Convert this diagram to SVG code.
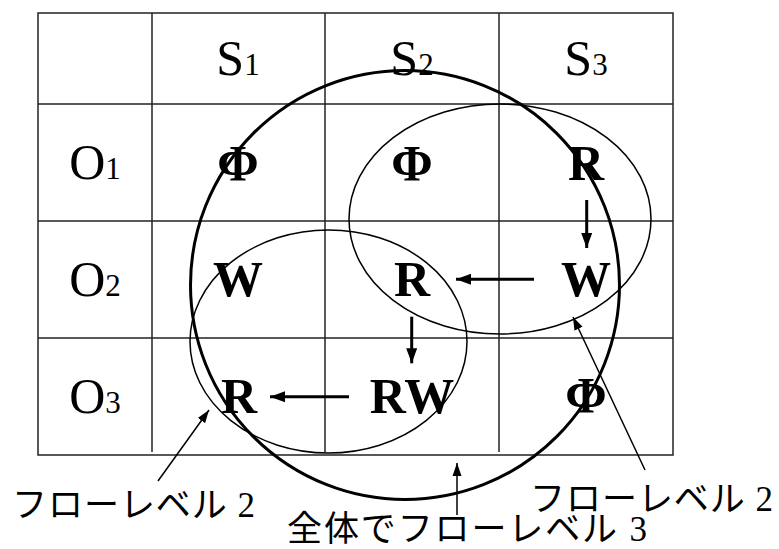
<svg xmlns="http://www.w3.org/2000/svg" width="779" height="549" viewBox="0 0 779 549">
<style>
.grid{stroke:#222;stroke-width:1.5;fill:none}
.big{stroke:#000;stroke-width:3;fill:none}
.ell{stroke:#000;stroke-width:1.5;fill:none}
.hd{font-family:"Liberation Serif","Times New Roman",serif;font-size:50px;fill:#000;text-anchor:middle}
.sub{font-size:31px}
.cell{font-family:"Liberation Serif","Times New Roman",serif;font-size:50px;font-weight:bold;fill:#000;text-anchor:middle}
.lbl{font-family:"Liberation Serif","Noto Sans CJK JP",serif;font-size:35px;fill:#000}
.flow{stroke:#000;stroke-width:3;fill:none}
.call{stroke:#000;stroke-width:1.5;fill:none}
</style>
<defs>
<marker id="ah" markerUnits="userSpaceOnUse" markerWidth="16" markerHeight="12" refX="15" refY="6" orient="auto">
<path d="M0,0.5 L15,6 L0,11.5 Z" fill="#000"/>
</marker>
<marker id="ahs" markerUnits="userSpaceOnUse" markerWidth="14" markerHeight="10" refX="13" refY="5" orient="auto">
<path d="M0,0.5 L13,5 L0,9.5 Z" fill="#000"/>
</marker>
</defs>
<rect width="779" height="549" fill="#fff"/>
<g id="table">
<rect class="grid" x="38" y="13" width="635" height="442"/>
<line class="grid" x1="152" y1="13" x2="152" y2="452"/>
<line class="grid" x1="325" y1="13" x2="325" y2="452"/>
<line class="grid" x1="499" y1="13" x2="499" y2="452"/>
<line class="grid" x1="38" y1="104" x2="673" y2="104"/>
<line class="grid" x1="38" y1="221" x2="673" y2="221"/>
<line class="grid" x1="38" y1="338" x2="673" y2="338"/>
</g>
<g id="headers">
<g id="h-s1"><text class="hd" x="238" y="75">S<tspan class="sub">1</tspan></text></g>
<g id="h-s2"><text class="hd" x="412" y="75">S<tspan class="sub">2</tspan></text></g>
<g id="h-s3"><text class="hd" x="586" y="75">S<tspan class="sub">3</tspan></text></g>
<g id="h-o1"><text class="hd" x="95" y="179">O<tspan class="sub">1</tspan></text></g>
<g id="h-o2"><text class="hd" x="95" y="296">O<tspan class="sub">2</tspan></text></g>
<g id="h-o3"><text class="hd" x="95" y="413">O<tspan class="sub">3</tspan></text></g>
</g>
<g id="cells">
<g id="c-o1-s1"><text class="cell" x="238" y="180">Φ</text></g>
<g id="c-o1-s2"><text class="cell" x="412" y="180">Φ</text></g>
<g id="c-o1-s3"><text class="cell" x="586" y="180">R</text></g>
<g id="c-o2-s1"><text class="cell" x="238" y="296">W</text></g>
<g id="c-o2-s2"><text class="cell" x="412" y="296">R</text></g>
<g id="c-o2-s3"><text class="cell" x="586" y="296">W</text></g>
<g id="c-o3-s1"><text class="cell" x="239" y="413">R</text></g>
<g id="c-o3-s2"><text class="cell" x="412" y="413">RW</text></g>
<g id="c-o3-s3"><text class="cell" x="586" y="412">Φ</text></g>
</g>
<g id="regions">
<ellipse id="level3" class="big" cx="405" cy="285" rx="214.5" ry="214.5"/>
<ellipse id="level2-upper" class="ell" cx="500" cy="219" rx="151" ry="115"/>
<ellipse id="level2-lower" class="ell" cx="328.5" cy="341.5" rx="138.5" ry="111.5"/>
</g>
<g id="connectors">
<line class="flow" x1="586.7" y1="200" x2="586.7" y2="248" marker-end="url(#ah)"/>
<line class="flow" x1="534" y1="279.3" x2="456" y2="279.3" marker-end="url(#ah)"/>
<line class="flow" x1="411.7" y1="316.7" x2="411.7" y2="363.3" marker-end="url(#ah)"/>
<line class="flow" x1="349" y1="396.7" x2="270" y2="396.7" marker-end="url(#ah)"/>
<line class="call" x1="158" y1="481" x2="209" y2="410" marker-end="url(#ahs)"/>
<line class="call" x1="645" y1="470" x2="573" y2="317" marker-end="url(#ahs)"/>
<line class="call" x1="457" y1="515" x2="457" y2="463" marker-end="url(#ahs)"/>
</g>
<g id="labels">
<g id="lbl-left"><text class="lbl" x="12" y="517" textLength="243" lengthAdjust="spacing">フローレベル 2</text></g>
<g id="lbl-right"><text class="lbl" x="530" y="511" textLength="243" lengthAdjust="spacing">フローレベル 2</text></g>
<g id="lbl-bottom"><text class="lbl" x="287" y="541" textLength="360" lengthAdjust="spacing">全体でフローレベル 3</text></g>
</g>
</svg>
